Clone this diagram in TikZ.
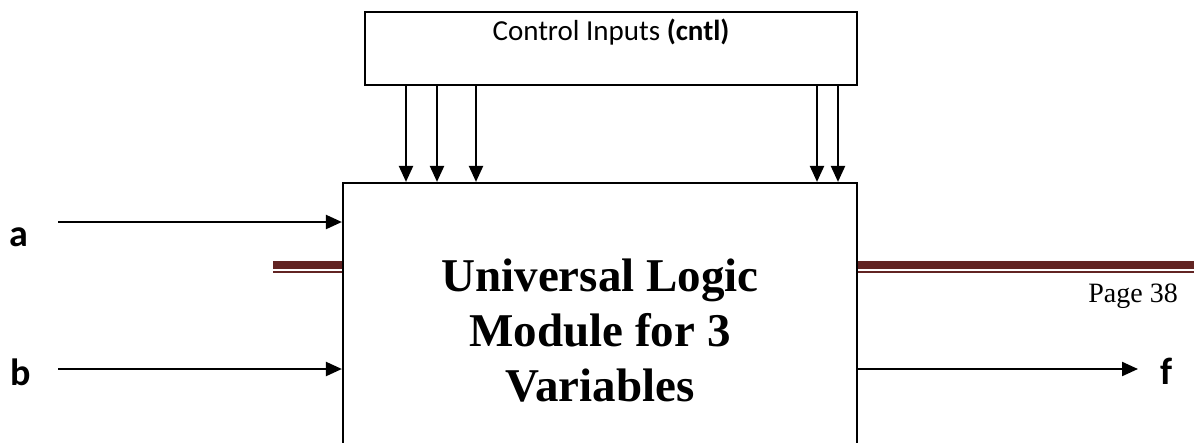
\documentclass[tikz,border=0pt]{standalone}
\usepackage{fontspec}
\setmainfont{Liberation Serif}
\newfontfamily\calfont{Carlito}
\usetikzlibrary{arrows.meta}
\definecolor{rulered}{HTML}{622423}

\begin{document}
\begin{tikzpicture}[x=1pt, y=-1pt,
  box/.style={draw, line width=2.2pt, fill=white, inner sep=0pt},
  sig/.style={line width=2.2pt, -{Triangle[length=16pt, width=14pt]}},
  pin/.style={inner sep=0pt, font=\calfont\fontsize{38}{38}\selectfont\bfseries}]
  \useasboundingbox (0,0) rectangle (1194,442);
  \clip (0,0) rectangle (1194,442);
  % page rule behind the module
  \draw[rulered, line width=8pt] (273,264.7) -- (1194,264.7);
  \draw[rulered, line width=2pt] (273,272) -- (1194,272);
  \node[inner sep=0pt, anchor=base east, font=\fontsize{28}{28}\selectfont] (page) at (1178,302) {Page 38};
  \node[box, minimum width=492pt, minimum height=73pt] (ctl) at (611,48.5) {};
  \node[anchor=base, inner sep=0pt, font=\calfont\fontsize{29}{29}\selectfont] (ctltxt) at (611,40) {Control Inputs \textbf{(cntl)}};
  \node[box, minimum width=514pt, minimum height=296pt, align=center,
        font=\fontsize{47}{55}\selectfont\bfseries] (ulm) at (600,331)
        {Universal Logic\\Module for 3\\Variables};
  \foreach \x in {406,437,476,817,838}
    \draw[sig] (ctl.south -| \x,0) -- (ulm.north -| \x,0);
  \node[pin] (a) at (19,237.5) {a};
  \node[pin] (b) at (21,372.5) {b};
  \node[pin] (f) at (1166,371.5) {f};
  \coordinate (ain) at (58,222);
  \coordinate (bin) at (58,369);
  \coordinate (fout) at (1138,369);
  \draw[sig] (ain) -- (ain -| ulm.west);
  \draw[sig] (bin) -- (bin -| ulm.west);
  \draw[sig] (fout -| ulm.east) -- (fout);
\end{tikzpicture}
\end{document}
